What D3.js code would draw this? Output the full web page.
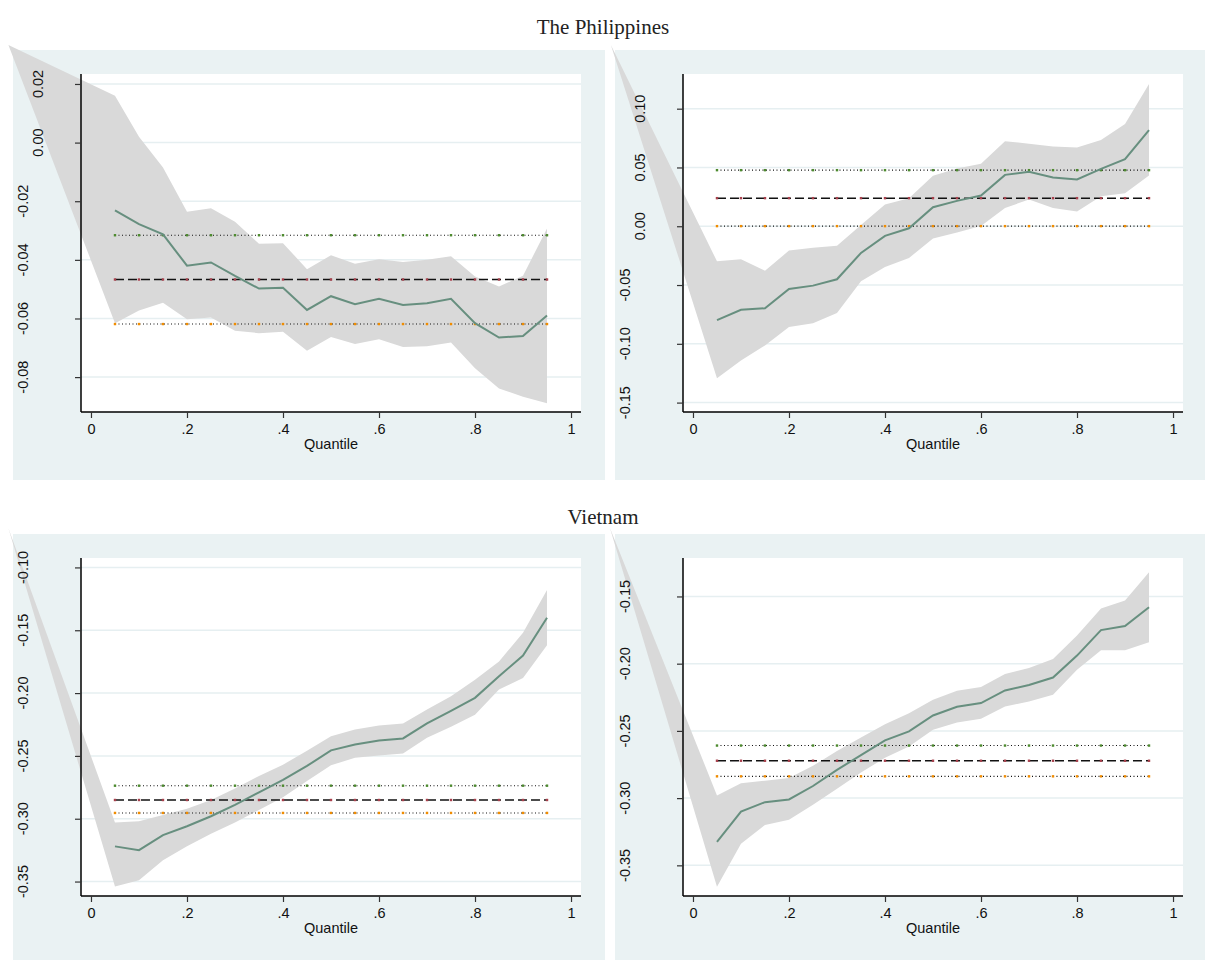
<!DOCTYPE html>
<html>
<head>
<meta charset="utf-8">
<script src="https://cdnjs.cloudflare.com/ajax/libs/d3/7.8.5/d3.min.js"></script>
<style>
    body {margin: 0; background: #fff;}
    svg {display: block;}
</style>
</head>
<body>
<script>
//quantiles on the x axis
var quantiles = [0.05, 0.10, 0.15, 0.20, 0.25, 0.30, 0.35, 0.40, 0.45, 0.50,
                 0.55, 0.60, 0.65, 0.70, 0.75, 0.80, 0.85, 0.90, 0.95];

var xTicks = [0, 0.2, 0.4, 0.6, 0.8, 1];
var xTickLabels = ['0', '.2', '.4', '.6', '.8', '1'];

var groupTitles = ['The Philippines', 'Vietnam'];

//Philippines, left panel
var phlLeftEst = [-0.0231, -0.0278, -0.0313, -0.0420, -0.0409, -0.0455, -0.0498, -0.0495, -0.0571, -0.0524,
                  -0.0551, -0.0533, -0.0554, -0.0548, -0.0533, -0.0616, -0.0665, -0.0660, -0.0590];
var phlLeftHi  = [0.0160, 0.0020, -0.0085, -0.0236, -0.0224, -0.0270, -0.0345, -0.0343, -0.0432, -0.0384,
                  -0.0413, -0.0398, -0.0407, -0.0400, -0.0388, -0.0457, -0.0491, -0.0454, -0.0293];
var phlLeftLo  = [-0.0616, -0.0573, -0.0546, -0.0603, -0.0597, -0.0642, -0.0650, -0.0645, -0.0710, -0.0663,
                  -0.0687, -0.0671, -0.0697, -0.0695, -0.0682, -0.0770, -0.0839, -0.0867, -0.0889];
var phlLeftOls = [-0.0467, -0.0619, -0.0316]; //estimate, lower, upper
var phlLeftTicks = [0.02, 0.00, -0.02, -0.04, -0.06, -0.08];
var phlLeftDomain = [-0.0919, 0.0234];
var phlLeftApex = [-0.172, 0.0333];

//Philippines, right panel
var phlRightEst = [-0.0798, -0.0710, -0.0698, -0.0534, -0.0505, -0.0451, -0.0227, -0.0082, -0.0017, 0.0162,
                   0.0216, 0.0261, 0.0437, 0.0463, 0.0415, 0.0398, 0.0488, 0.0571, 0.0818];
var phlRightHi  = [-0.0298, -0.0281, -0.0378, -0.0207, -0.0182, -0.0165, 0.0011, 0.0185, 0.0239, 0.0429,
                   0.0491, 0.0531, 0.0724, 0.0701, 0.0679, 0.0670, 0.0733, 0.0869, 0.1210];
var phlRightLo  = [-0.1292, -0.1141, -0.1014, -0.0858, -0.0826, -0.0738, -0.0468, -0.0346, -0.0270, -0.0105,
                   -0.0054, 0.0003, 0.0156, 0.0227, 0.0156, 0.0125, 0.0256, 0.0281, 0.0432];
var phlRightOls = [0.0239, 0.0001, 0.0477];
var phlRightTicks = [0.10, 0.05, 0.00, -0.05, -0.10, -0.15];
var phlRightDomain = [-0.158, 0.1295];
var phlRightApex = [-0.171, 0.1542];

//Vietnam, left panel
var vnmLeftEst = [-0.322, -0.325, -0.313, -0.306, -0.298, -0.289, -0.279, -0.269, -0.258, -0.2456,
                  -0.2409, -0.2377, -0.2361, -0.2242, -0.2141, -0.2038, -0.1866, -0.1702, -0.140];
var vnmLeftHi  = [-0.303, -0.302, -0.297, -0.292, -0.285, -0.276, -0.266, -0.257, -0.246, -0.2343,
                  -0.2290, -0.2258, -0.2242, -0.2131, -0.2025, -0.1893, -0.1748, -0.152, -0.118];
var vnmLeftLo  = [-0.354, -0.349, -0.333, -0.322, -0.312, -0.303, -0.293, -0.283, -0.270, -0.2575,
                  -0.2514, -0.2496, -0.2480, -0.2356, -0.2268, -0.2173, -0.1972, -0.1880, -0.162];
var vnmLeftOls = [-0.2851, -0.2954, -0.2737];
var vnmLeftTicks = [-0.10, -0.15, -0.20, -0.25, -0.30, -0.35];
var vnmLeftDomain = [-0.3615, -0.0925];
var vnmLeftApex = [-0.172, -0.0689];

//Vietnam, right panel
var vnmRightEst = [-0.3325, -0.310, -0.303, -0.301, -0.291, -0.279, -0.268, -0.257, -0.2504, -0.2385,
                   -0.2321, -0.2293, -0.2199, -0.2159, -0.2103, -0.194, -0.175, -0.172, -0.158];
var vnmRightHi  = [-0.298, -0.289, -0.287, -0.285, -0.276, -0.265, -0.255, -0.245, -0.2368, -0.2269,
                   -0.2202, -0.2174, -0.2077, -0.2033, -0.1966, -0.179, -0.159, -0.153, -0.132];
var vnmRightLo  = [-0.366, -0.334, -0.320, -0.316, -0.305, -0.293, -0.281, -0.270, -0.2616, -0.2492,
                   -0.2437, -0.2410, -0.2318, -0.2281, -0.2231, -0.2045, -0.190, -0.190, -0.184];
var vnmRightOls = [-0.2722, -0.2838, -0.2609];
var vnmRightTicks = [-0.15, -0.20, -0.25, -0.30, -0.35];
var vnmRightDomain = [-0.3728, -0.1214];
var vnmRightApex = [-0.173, -0.0991];

var panels = [
    {est: phlLeftEst, hi: phlLeftHi, lo: phlLeftLo, ols: phlLeftOls, ticks: phlLeftTicks, domain: phlLeftDomain, apex: phlLeftApex, col: 0, row: 0},
    {est: phlRightEst, hi: phlRightHi, lo: phlRightLo, ols: phlRightOls, ticks: phlRightTicks, domain: phlRightDomain, apex: phlRightApex, col: 1, row: 0},
    {est: vnmLeftEst, hi: vnmLeftHi, lo: vnmLeftLo, ols: vnmLeftOls, ticks: vnmLeftTicks, domain: vnmLeftDomain, apex: vnmLeftApex, col: 0, row: 1},
    {est: vnmRightEst, hi: vnmRightHi, lo: vnmRightLo, ols: vnmRightOls, ticks: vnmRightTicks, domain: vnmRightDomain, apex: vnmRightApex, col: 1, row: 1}
];

//sizes
var totalWidth = 1205, totalHeight = 960;
var panelW = 592, panelH = 430;
var panelX = [13, 615], panelY = [50, 534];
var margin = {top: 24, left: 68, right: 24, bottom: 68};
var width = panelW - margin.left - margin.right,
    height = panelH - margin.top - margin.bottom;

var bgColor = '#eaf2f3',
    gridColor = '#e6eff1',
    bandColor = '#d9d9d9',
    lineColor = '#678f7f';

var svg = d3.select('body').append('svg')
    .attr('width', totalWidth)
    .attr('height', totalHeight);

//group titles
svg.selectAll('.group-title')
    .data(groupTitles)
    .enter().append('text')
    .attr('class', 'group-title')
    .attr('x', 603)
    .attr('y', function(d, i) {return i == 0 ? 34 : 524})
    .attr('text-anchor', 'middle')
    .style('font-family', '"Liberation Serif", serif')
    .style('font-size', '21px')
    .style('fill', '#222')
    .text(function(d) {return d});

var fmt = function(v) {
    var s = Math.abs(v).toFixed(2);
    return (v < -1e-9 ? '-' : '') + s;
};

panels.forEach(function(p) {
    var g = svg.append('g')
        .attr('transform', 'translate(' + panelX[p.col] + ',' + panelY[p.row] + ')');

    g.append('rect')
        .attr('width', panelW)
        .attr('height', panelH)
        .style('fill', bgColor);

    var plot = g.append('g')
        .attr('transform', 'translate(' + margin.left + ',' + margin.top + ')');

    var xScale = d3.scaleLinear().domain([-0.0208, 1.0208]).range([0, width]);
    var yScale = d3.scaleLinear().domain(p.domain).range([height, 0]);

    plot.append('rect')
        .attr('width', width)
        .attr('height', height)
        .style('fill', '#fff');

    //gridlines
    plot.selectAll('.grid')
        .data(p.ticks)
        .enter().append('line')
        .attr('x1', 0)
        .attr('x2', width)
        .attr('y1', function(d) {return yScale(d)})
        .attr('y2', function(d) {return yScale(d)})
        .style('stroke', gridColor)
        .style('stroke-width', 1.5);

    //confidence band (polygon closes back to the stray corner point)
    var bandPts = [p.apex];
    quantiles.forEach(function(q, i) {bandPts.push([q, p.hi[i]])});
    for (var i = quantiles.length - 1; i >= 0; i--) bandPts.push([quantiles[i], p.lo[i]]);
    var bandLine = d3.line()
        .x(function(d) {return xScale(d[0])})
        .y(function(d) {return yScale(d[1])});
    plot.append('path')
        .attr('d', bandLine(bandPts) + 'Z')
        .style('fill', bandColor)
        .style('stroke', 'none');

    //OLS lines
    var olsStyles = [
        {dash: '9,4', width: 1.5, marker: '#a8404c'},
        {dash: '1,2.5', width: 1.1, marker: '#f08c00'},
        {dash: '1,2.5', width: 1.1, marker: '#4d8a2e'}
    ];
    p.ols.forEach(function(v, k) {
        var st = olsStyles[k];
        plot.append('line')
            .attr('x1', xScale(quantiles[0]))
            .attr('x2', xScale(quantiles[quantiles.length - 1]))
            .attr('y1', yScale(v))
            .attr('y2', yScale(v))
            .style('stroke', '#111')
            .style('stroke-width', st.width)
            .style('stroke-dasharray', st.dash);
        plot.selectAll('.m' + k)
            .data(quantiles)
            .enter().append('rect')
            .attr('x', function(d) {return xScale(d) - 1.2})
            .attr('y', yScale(v) - 1.2)
            .attr('width', 2.4)
            .attr('height', 2.4)
            .style('fill', st.marker);
    });

    //quantile estimates
    plot.append('path')
        .datum(p.est)
        .attr('d', d3.line()
            .x(function(d, i) {return xScale(quantiles[i])})
            .y(function(d) {return yScale(d)}))
        .style('fill', 'none')
        .style('stroke', lineColor)
        .style('stroke-width', 2);

    //y axis
    var yAxis = d3.axisLeft(yScale).tickValues(p.ticks).tickSize(6).tickFormat('');
    var ya = plot.append('g').call(yAxis);
    ya.select('.domain').attr('d', 'M0,0V' + height).style('stroke', '#000').style('stroke-width', 1.5);
    ya.selectAll('.tick line').style('stroke', '#333').style('stroke-width', 1.2);

    plot.selectAll('.ylab')
        .data(p.ticks)
        .enter().append('text')
        .attr('transform', function(d) {
            var off = d < -1e-9 ? -53 : -38;
            return 'translate(' + off + ',' + yScale(d) + ') rotate(-90)';
        })
        .attr('text-anchor', 'middle')
        .style('font-family', '"Liberation Sans", Arial, sans-serif')
        .style('font-size', '14.5px')
        .style('fill', '#111')
        .text(fmt);

    //x axis
    var xAxis = d3.axisBottom(xScale).tickValues(xTicks).tickSize(6)
        .tickFormat(function(d, i) {return xTickLabels[i]});
    var xa = plot.append('g')
        .attr('transform', 'translate(0,' + height + ')')
        .call(xAxis);
    xa.select('.domain').attr('d', 'M0,0H' + width).style('stroke', '#000').style('stroke-width', 1.5);
    xa.selectAll('.tick line').style('stroke', '#333').style('stroke-width', 1.2);
    xa.selectAll('.tick text')
        .attr('y', 12)
        .style('font-family', '"Liberation Sans", Arial, sans-serif')
        .style('font-size', '14.5px')
        .style('fill', '#111');

    plot.append('text')
        .attr('x', width / 2)
        .attr('y', height + 37)
        .attr('text-anchor', 'middle')
        .style('font-family', '"Liberation Sans", Arial, sans-serif')
        .style('font-size', '14.5px')
        .style('fill', '#111')
        .text('Quantile');
});
</script>
</body>
</html>
